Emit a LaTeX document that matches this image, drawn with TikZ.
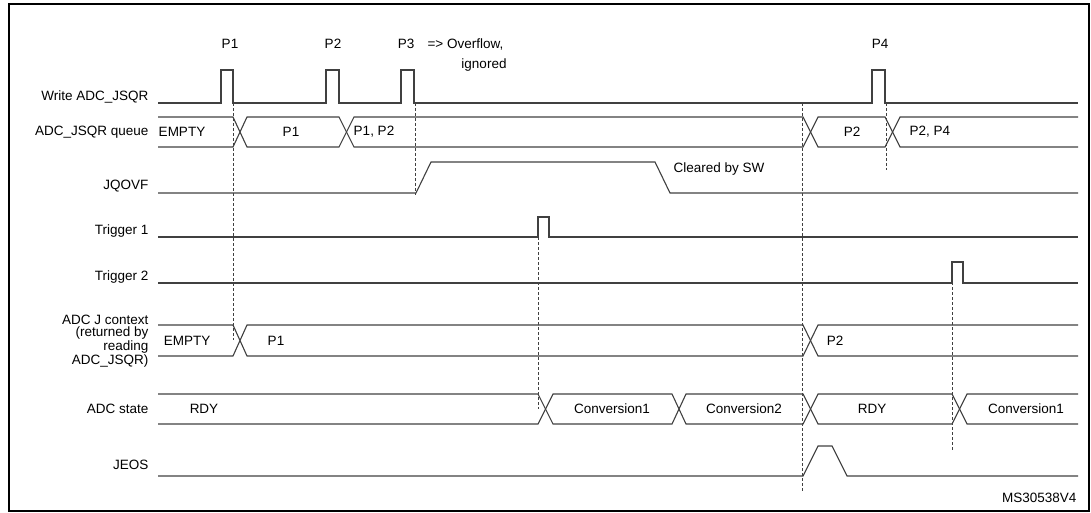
\documentclass[tikz,border=0pt]{standalone}
\usepackage{fontspec}
\setmainfont{Liberation Sans}
\begin{document}
\begin{tikzpicture}[x=1pt,y=-1pt,
  sig/.style={draw=black!75,line width=1.1pt},
  dsh/.style={draw=black!75,line width=0.7pt,dash pattern=on 3pt off 2pt},
  lab/.style={anchor=east,font=\fontsize{13.5}{14}\selectfont,align=right},
  txt/.style={font=\fontsize{13.5}{14}\selectfont}]
\useasboundingbox (0,0) rectangle (1091,513);
\draw[line width=1.8pt] (9,4) rectangle (1089,511);
% labels
\node[lab] (l1) at (152,97) {Write ADC\_JSQR};
\node[lab] (l2) at (152,132) {ADC\_JSQR queue};
\node[lab] (l3) at (152,186) {JQOVF};
\node[lab] (l4) at (152,231) {Trigger 1};
\node[lab] (l5) at (152,277) {Trigger 2};
\node[lab,font=\fontsize{13.5}{12.5}\selectfont] (l6) at (152,341) {ADC J context\\(returned by\\reading\\ADC\_JSQR)};
\node[lab] (l7) at (152,409) {ADC state};
\node[lab] (l8) at (152,465) {JEOS};
% Write ADC_JSQR
\draw[sig] (158,103) -- (221,103) -- (221,70) -- (233,70) -- (233,103) -- (326,103) -- (326,70) -- (339,70) -- (339,103)
  -- (401,103) -- (401,70) -- (414,70) -- (414,103) -- (872,103) -- (872,70) -- (885,70) -- (885,103) -- (1078,103);
\node[txt] (p1) at (230,44) {P1};
\node[txt] (p2) at (333,44) {P2};
\node[txt] (p3) at (406,44) {P3};
\node[txt,anchor=west] (ov) at (424,44) {=> Overflow,};
\node[txt] (ig) at (484,65) {ignored};
\node[txt] (p4) at (880,44) {P4};
% queue
\draw[sig] (158,117) -- (233,117) -- (247,147) -- (339,147) -- (354,117) -- (803,117) -- (818,147) -- (885,147) -- (900,117) -- (1078,117);
\draw[sig] (158,147) -- (233,147) -- (247,117) -- (339,117) -- (354,147) -- (803,147) -- (818,117) -- (885,117) -- (900,147) -- (1078,147);
\node[txt] (q0) at (182,132) {EMPTY};
\node[txt] (q1) at (291,132) {P1};
\node[txt] (q2) at (374,132) {P1, P2};
\node[txt] (q3) at (852,132) {P2};
\node[txt,anchor=west] (q4) at (906,132) {P2, P4};
% JQOVF
\draw[sig] (158,193) -- (416,193) -- (431,162) -- (655,162) -- (670,193) -- (1078,193);
\node[txt,anchor=west] (clr) at (670,169) {Cleared by SW};
% Trigger 1
\draw[sig] (158,237) -- (538,237) -- (538,217) -- (549,217) -- (549,237) -- (1078,237);
% Trigger 2
\draw[sig] (158,283) -- (952,283) -- (952,262) -- (963,262) -- (963,283) -- (1078,283);
% ADC J context
\draw[sig] (158,325) -- (233,325) -- (247,356) -- (803,356) -- (818,325) -- (1078,325);
\draw[sig] (158,356) -- (233,356) -- (247,325) -- (803,325) -- (818,356) -- (1078,356);
\node[txt] (j0) at (187,341) {EMPTY};
\node[txt] (j1) at (276,341) {P1};
\node[txt] (j2) at (835,341) {P2};
% ADC state
\draw[sig] (158,394) -- (538,394) -- (553,424) -- (672,424) -- (686,394) -- (803,394) -- (818,424) -- (952,424) -- (967,394) -- (1078,394);
\draw[sig] (158,424) -- (538,424) -- (553,394) -- (672,394) -- (686,424) -- (803,424) -- (818,394) -- (952,394) -- (967,424) -- (1078,424);
\node[txt] (s0) at (204,409) {RDY};
\node[txt] (s1) at (612,409) {Conversion1};
\node[txt] (s2) at (744,409) {Conversion2};
\node[txt] (s3) at (872,409) {RDY};
\node[txt] (s4) at (1026,409) {Conversion1};
% JEOS
\draw[sig] (158,476) -- (803,476) -- (818,446) -- (832,446) -- (847,476) -- (1078,476);
% dashed guides
\draw[dsh] (233,103) -- (233,340);
\draw[dsh] (415,103) -- (415,195);
\draw[dsh] (538,237) -- (538,409);
\draw[dsh] (802,103) -- (802,491);
\draw[dsh] (886,103) -- (886,170);
\draw[dsh] (952,262) -- (952,450);
\node[txt,anchor=east] (ms) at (1080,498) {MS30538V4};
\end{tikzpicture}
\end{document}
